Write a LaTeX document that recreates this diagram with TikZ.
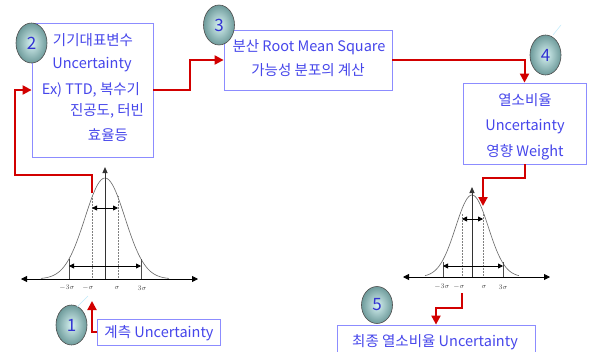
\documentclass[tikz,border=0pt]{standalone}
\usepackage{fontspec}
\setmainfont{Noto Sans CJK KR}
\usetikzlibrary{arrows.meta,shapes.geometric}
\definecolor{txtblue}{RGB}{70,70,235}
\definecolor{boxblue}{RGB}{140,140,255}
\definecolor{redline}{RGB}{210,0,0}
\definecolor{numblue}{RGB}{50,50,210}
\definecolor{ballin}{RGB}{215,242,242}
\definecolor{ballout}{RGB}{110,155,155}
\begin{document}
\begin{tikzpicture}[x=1pt,y=-1pt,
  box/.style={draw=boxblue, line width=0.8pt, fill=white, rectangle, inner sep=0pt},
  lbl/.style={text=txtblue, font=\fontsize{14.5}{16}\selectfont, inner sep=0pt},
  ball/.style={ellipse, draw=gray!60!black, line width=0.6pt, minimum width=31, minimum height=40,
    inner sep=0pt, inner color=ballin, outer color=ballout, text=numblue, font=\fontsize{17}{17}\selectfont},
  flow/.style={draw=redline, line width=2pt, -{Triangle[length=9pt,width=9pt]}},
  axisline/.style={line width=0.8pt, {Triangle[length=6pt,width=6pt]}-{Triangle[length=6pt,width=6pt]}},
  vaxis/.style={draw=gray!40!black, line width=1pt, -{Triangle[length=6pt,width=5pt]}},
  span/.style={line width=0.8pt, {Triangle[length=5pt,width=5pt]}-{Triangle[length=5pt,width=5pt]}},
  bell/.style={draw=gray!80!black, line width=0.6pt},
  dotline/.style={draw=gray, line width=0.5pt, densely dotted},
  sigline/.style={draw=gray!60!black, line width=0.5pt},
  sig/.style={font=\fontsize{7}{7}\selectfont, text=gray!60!black, inner sep=0pt},
  glint/.style={draw=cyan!25, line width=0.5pt}]
\clip (0,0) rectangle (591,351);
\fill[white] (0,0) rectangle (591,351);

% ---------- boxes ----------
\node[box, minimum width=121, minimum height=134] (b2) at (92.5,90) {};
\node[box, minimum width=168, minimum height=60] (b3) at (308,60) {};
\node[box, minimum width=123, minimum height=81] (b4) at (524.5,123.5) {};
\node[box, minimum width=123, minimum height=26] (b1) at (158.5,332) {};
\node[box, minimum width=198, minimum height=36] (b5) at (436,343) {};

% ---------- texts ----------
\node[lbl] (t2a) at (93,40) {기기대표변수};
\node[lbl] (t2b) at (92,65) {Uncertainty};
\node[lbl] (t2c) at (91,90) {Ex) TTD, 복수기};
\node[lbl] (t2d) at (107,111) {진공도, 터빈};
\node[lbl] (t2e) at (108,135) {효율등};
\node[lbl] (t3a) at (309,47) {분산 Root Mean Square};
\node[lbl] (t3b) at (308,70) {가능성 분포의 계산};
\node[lbl] (t4a) at (525,100) {열소비율};
\node[lbl] (t4b) at (525,127) {Uncertainty};
\node[lbl] (t4c) at (525,152) {영향 Weight};
\node[lbl] (t1) at (159,333) {계측 Uncertainty};
\node[lbl] (t5) at (435,342) {최종 열소비율 Uncertainty};

% ---------- left bell curve ----------
\draw[bell] plot[domain=-64:64, samples=90, smooth] ({105+\x},{279-101*exp(-(\x*\x)/800)});
\draw[dotline] (92,279) -- (92,196);
\draw[dotline] (118,279) -- (118,196);
\draw[sigline] (69,279) -- (69,259);
\draw[sigline] (141,279) -- (141,259);
\draw[axisline] (21,279) -- (198,279);
\draw[vaxis] (105,279) -- (105,167);
\draw[span] (92,208) -- (118,208);
\draw[span] (69,266) -- (141,266);
\node[sig] (l1) at (67,288) {$-3\sigma$};
\node[sig] (l2) at (88,288) {$-\sigma$};
\node[sig] (l3) at (117,288) {$\sigma$};
\node[sig] (l4) at (142,288) {$3\sigma$};

% ---------- right bell curve ----------
\draw[bell] plot[domain=-47:47, samples=80, smooth] ({472+\x},{277-82*exp(-(\x*\x)/538)});
\draw[dotline] (462,277) -- (462,213);
\draw[dotline] (483,277) -- (483,213);
\draw[sigline] (443,277) -- (443,262);
\draw[sigline] (503,277) -- (503,262);
\draw[axisline] (403,277) -- (550,277);
\draw[vaxis] (472,277) -- (472,187);
\draw[span] (462,219) -- (483,219);
\draw[span] (443,266) -- (503,266);
\node[sig] (r1) at (442,287) {$-3\sigma$};
\node[sig] (r2) at (459,287) {$-\sigma$};
\node[sig] (r3) at (484,287) {$\sigma$};
\node[sig] (r4) at (503,287) {$3\sigma$};

% ---------- connector end points ----------
\coordinate (c1) at (92,301);
\coordinate (c2) at (92,193);
\coordinate (c5) at (483,206);
\coordinate (c6) at (462,293);

% ---------- red flow arrows ----------
\draw[flow] (b1.west) -| (c1);
\draw[flow] (c2) |- (15,175) |- (b2.west);
\draw[flow] (b2.east) -- (190,90) |- (b3.west);
\draw[flow] (b3.east) -| (b4.north);
\draw[flow] (b4.south) -- (524.5,178) -| (c5);
\draw[flow] (c6) -- (462,308) -| (b5.north);

% ---------- numbered balls ----------
\node[ball] (n1) at (71.5,325) {1};
\node[ball] (n2) at (31.5,43) {2};
\node[ball] (n3) at (219,25) {3};
\node[ball] (n4) at (545.5,55) {4};
\node[ball, minimum height=37] (n5) at (377,305) {5};
\draw[glint] (77,307) -- (88,296);
\draw[glint] (553,35) -- (561,25);
\end{tikzpicture}
\end{document}
